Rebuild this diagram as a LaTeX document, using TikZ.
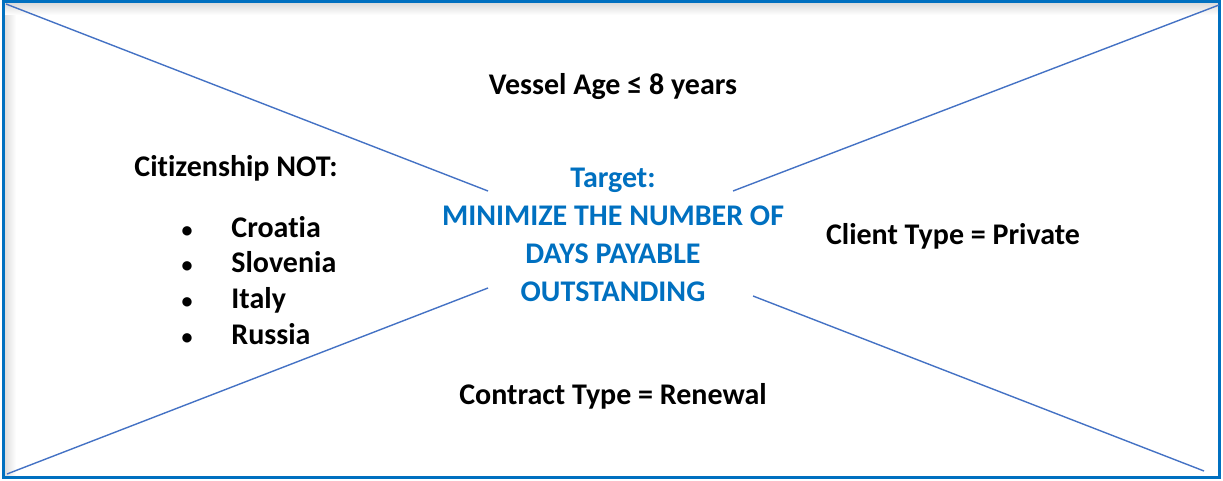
\documentclass[tikz,border=0pt]{standalone}
\usepackage{fontspec}
\setmainfont[Ligatures=NoCommon]{Carlito}
\usetikzlibrary{positioning}
\definecolor{frameblue}{RGB}{0,112,192}
\definecolor{lineblue}{RGB}{68,114,196}
\definecolor{shadowgray}{RGB}{222,222,222}

\begin{document}
\begin{tikzpicture}[
  x=0.5pt, y=-0.5pt,
  txt/.style={font=\bfseries\fontsize{15}{18}\selectfont, inner sep=0pt, text=black},
  goal/.style={txt, text=frameblue, align=center, font=\bfseries\fontsize{15}{19}\selectfont},
  item/.style={txt, anchor=base west},
  dot/.style={txt, anchor=base, font=\bfseries\fontsize{11}{13}\selectfont},
  cross/.style={lineblue, line width=0.7pt},
]
\useasboundingbox (0,0) rectangle (1223,481);

% frame with inner shadow
\shade[left color=shadowgray, right color=white] (5,4) rectangle (16,476);
\shade[top color=shadowgray, bottom color=white] (5,4) rectangle (1218,15);
\draw[frameblue, line width=1.5pt] (3.5,2) rectangle (1219.5,477.5);

% corners and inner ends
\coordinate (tl) at (6,4);
\coordinate (tr) at (1219,5);
\coordinate (bl) at (7,474);
\coordinate (br) at (1204,471);
\coordinate (tlin) at (488,191);
\coordinate (trin) at (733,191);
\coordinate (blin) at (488,288);
\coordinate (brin) at (753,296);

% texts
\node[txt] (age) at (613,87) {Vessel Age ≤ 8 years};
\node[txt] (cit) at (236,168) {Citizenship NOT:};
\node[item] (c1) at (231,237.5) {Croatia};
\node[item] (c2) at (231,273) {Slovenia};
\node[item] (c3) at (231,308.5) {Italy};
\node[item] (c4) at (231,344) {Russia};
\foreach \n in {1,...,4}
  \node[dot] at (c\n.base -| 187,0) {•};
\node[goal] (target) at (613,235) {Target:\\MINIMIZE THE NUMBER OF\\DAYS PAYABLE\\OUTSTANDING};
\node[txt] (client) at (953,236) {Client Type = Private};
\node[txt] (contract) at (613,396) {Contract Type = Renewal};

% cross lines
\draw[cross] (tl) -- (tlin);
\draw[cross] (tr) -- (trin);
\draw[cross] (bl) -- (blin);
\draw[cross] (br) -- (brin);

\end{tikzpicture}
\end{document}
